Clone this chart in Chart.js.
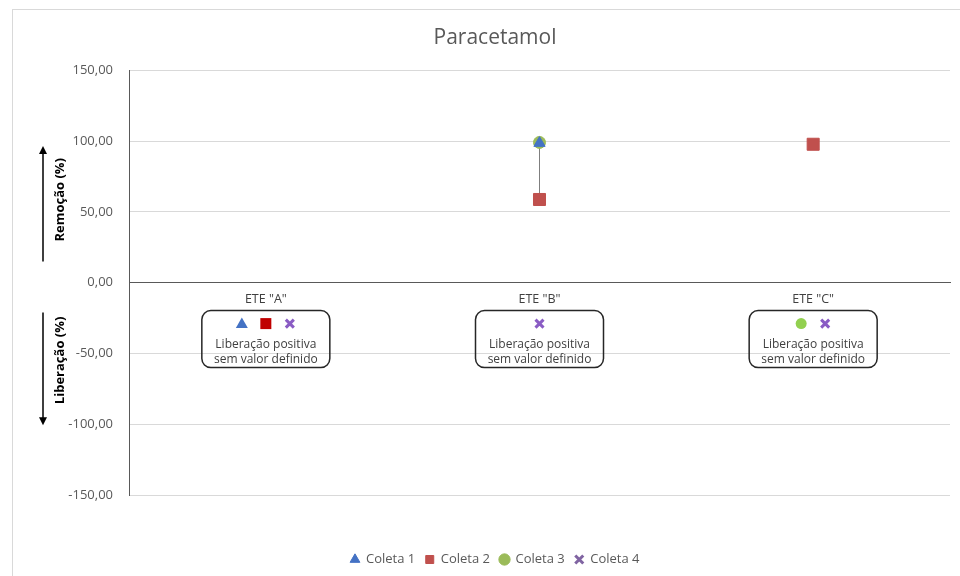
<!DOCTYPE html>
<html>
<head>
<meta charset="utf-8">
<script src="https://cdn.jsdelivr.net/npm/chart.js@4"></script>
<style>
  body { margin: 0; background: #fff; overflow: hidden; }
  #frame { position: absolute; left: 12px; top: 9px; width: 1000px; height: 620px; border: 1px solid #d9d9d9; }
  #wrap { position: absolute; left: 0; top: 0; width: 960px; height: 576px; }
</style>
</head>
<body>
<div id="frame"></div>
<div id="wrap"><canvas id="myChart" width="960" height="576"></canvas></div>
<script>
// categories and values
var categories = ['ETE "A"', 'ETE "B"', 'ETE "C"']
var coleta1 = [null, 98.5, null]
var coleta2 = [null, 58.7, 97.7]
var coleta3 = [null, 99, null]
var coleta4 = [null, null, null]
var yTicks = [-150, -100, -50, 0, 50, 100, 150]

// series with positive release but no value, per category (index into series list)
var releaseMarks = [[0, 1, 3], [3], [2, 3]]
var noteLines = ['Liberação positiva', 'sem valor definido']

var seriesNames = ['Coleta 1', 'Coleta 2', 'Coleta 3', 'Coleta 4']
var seriesStyles = ['triangle', 'rect', 'circle', 'crossRot']
var seriesColors = ['#4472C4', '#C0504D', '#9BBB59', '#8064A2']
var boxColors = ['#4472C4', '#C00000', '#92D050', '#8a5cc4']
var allSeries = [coleta1, coleta2, coleta3, coleta4]

var FONT = "'Open Sans', 'DejaVu Sans', sans-serif"

function drawMark(ctx, style, color, x, y) {
  ctx.save()
  ctx.fillStyle = color
  ctx.strokeStyle = color
  ctx.beginPath()
  if (style == 'triangle') {
    ctx.moveTo(x, y - 6); ctx.lineTo(x + 6, y + 4.5); ctx.lineTo(x - 6, y + 4.5); ctx.closePath(); ctx.fill()
  } else if (style == 'rect') {
    ctx.fillRect(x - 5.5, y - 5.5, 11, 11)
  } else if (style == 'circle') {
    ctx.arc(x, y, 5.5, 0, Math.PI * 2); ctx.fill()
  } else {
    ctx.lineWidth = 3
    ctx.moveTo(x - 4, y - 4); ctx.lineTo(x + 4, y + 4)
    ctx.moveTo(x + 4, y - 4); ctx.lineTo(x - 4, y + 4)
    ctx.stroke()
  }
  ctx.restore()
}

// high-low lines between the series at each category
var hiLoPlugin = {
  id: 'hiLo',
  beforeDatasetsDraw(chart) {
    var ctx = chart.ctx, xs = chart.scales.x, ys = chart.scales.y
    for (var i = 0; i < categories.length; i++) {
      var vals = allSeries.map(function (s) { return s[i] }).filter(function (v) { return v != null })
      if (vals.length < 2) continue
      var x = xs.getPixelForValue(i)
      ctx.save()
      ctx.strokeStyle = '#7f7f7f'
      ctx.lineWidth = 1
      ctx.beginPath()
      ctx.moveTo(x, ys.getPixelForValue(Math.max.apply(null, vals)))
      ctx.lineTo(x, ys.getPixelForValue(Math.min.apply(null, vals)))
      ctx.stroke()
      ctx.restore()
    }
  }
}

// rounded note boxes and the two axis titles with arrows
var notesPlugin = {
  id: 'notes',
  afterDraw(chart) {
    var ctx = chart.ctx, xs = chart.scales.x, ys = chart.scales.y
    var zeroY = ys.getPixelForValue(0)
    for (var i = 0; i < categories.length; i++) {
      var cx = xs.getPixelForValue(i)
      var w = 128, h = 57, top = zeroY + 28
      ctx.save()
      ctx.strokeStyle = '#262626'
      ctx.lineWidth = 1.5
      ctx.beginPath()
      ctx.roundRect(cx - w / 2, top, w, h, 9)
      ctx.stroke()
      var marks = releaseMarks[i]
      var gap = 24
      var start = cx - (marks.length - 1) * gap / 2
      marks.forEach(function (m, k) {
        drawMark(ctx, seriesStyles[m], boxColors[m], start + k * gap, top + 13)
      })
      ctx.fillStyle = '#404040'
      ctx.font = '12px ' + FONT
      ctx.textAlign = 'center'
      ctx.textBaseline = 'middle'
      ctx.fillText(noteLines[0], cx, top + 34)
      ctx.fillText(noteLines[1], cx, top + 49)
      ctx.restore()
    }

    // axis titles
    var ax = 43
    var y100 = ys.getPixelForValue(100), yM100 = ys.getPixelForValue(-100)
    ctx.save()
    ctx.strokeStyle = '#000'
    ctx.fillStyle = '#000'
    ctx.lineWidth = 1.5
    ctx.beginPath()
    ctx.moveTo(ax, y100 + 12); ctx.lineTo(ax, zeroY - 21)
    ctx.moveTo(ax, zeroY + 30); ctx.lineTo(ax, yM100 - 6)
    ctx.stroke()
    ctx.beginPath()
    ctx.moveTo(ax, y100 + 5); ctx.lineTo(ax + 4, y100 + 13); ctx.lineTo(ax - 4, y100 + 13); ctx.closePath(); ctx.fill()
    ctx.beginPath()
    ctx.moveTo(ax, yM100 + 1); ctx.lineTo(ax + 4, yM100 - 7); ctx.lineTo(ax - 4, yM100 - 7); ctx.closePath(); ctx.fill()
    ctx.font = 'bold 13px ' + FONT
    ctx.textAlign = 'center'
    ctx.textBaseline = 'middle'
    ctx.fillStyle = '#000'
    ctx.translate(60, (y100 + zeroY) / 2 - 12)
    ctx.rotate(-Math.PI / 2)
    ctx.fillText('Remoção (%)', 0, 0)
    ctx.restore()
    ctx.save()
    ctx.font = 'bold 13px ' + FONT
    ctx.textAlign = 'center'
    ctx.textBaseline = 'middle'
    ctx.fillStyle = '#000'
    ctx.translate(60, (yM100 + zeroY) / 2 + 7)
    ctx.rotate(-Math.PI / 2)
    ctx.fillText('Liberação (%)', 0, 0)
    ctx.restore()
  }
}

function makeSet(i, data, radius) {
  return {
    label: seriesNames[i],
    data: data,
    showLine: false,
    pointStyle: seriesStyles[i],
    pointRadius: radius,
    pointHoverRadius: radius,
    backgroundColor: seriesColors[i],
    borderColor: seriesColors[i],
    borderWidth: i == 3 ? 3 : 1
  }
}

new Chart("myChart", {
  type: "line",
  data: {
    labels: categories,
    datasets: [
      makeSet(0, coleta1, 6.5),
      makeSet(1, coleta2, 8.5),
      makeSet(2, coleta3, 6),
      makeSet(3, coleta4, 6)
    ]
  },
  options: {
    responsive: false,
    animation: false,
    layout: { padding: { left: 40, right: 10, top: 0, bottom: 0 } },
    plugins: {
      title: {
        display: true,
        text: "Paracetamol",
        color: '#595959',
        font: { family: FONT, size: 21, weight: 'normal' },
        padding: { top: 25, bottom: 20 }
      },
      legend: {
        display: true,
        position: 'bottom',
        labels: {
          usePointStyle: true,
          boxWidth: 9,
          boxHeight: 8,
          padding: 10,
          color: '#595959',
          font: { family: FONT, size: 13 }
        }
      },
      tooltip: { enabled: false }
    },
    scales: {
      x: {
        type: 'category',
        offset: true,
        position: { y: 0 },
        grid: { display: false, drawTicks: false, offset: true },
        border: { display: true, color: '#595959', width: 1 },
        ticks: { color: '#404040', padding: 9, font: { family: FONT, size: 12.5 } }
      },
      xPad: {
        type: 'category',
        labels: [''],
        position: 'bottom',
        grid: { display: false, drawTicks: false },
        border: { display: false },
        ticks: { display: false },
        afterFit: function (s) { s.height = 48 }
      },
      y: {
        min: -150,
        max: 150,
        afterBuildTicks: function (s) { s.ticks = yTicks.map(function (v) { return { value: v } }) },
        afterFit: function (s) { s.width = 89 },
        grid: { color: '#d9d9d9', drawTicks: false },
        border: { display: true, color: '#595959', width: 1 },
        ticks: {
          color: '#595959',
          padding: 16,
          font: { family: FONT, size: 13 },
          callback: function (v) { return v.toFixed(2).replace('.', ',') }
        }
      }
    }
  },
  plugins: [hiLoPlugin, notesPlugin]
});
</script>
</body>
</html>
